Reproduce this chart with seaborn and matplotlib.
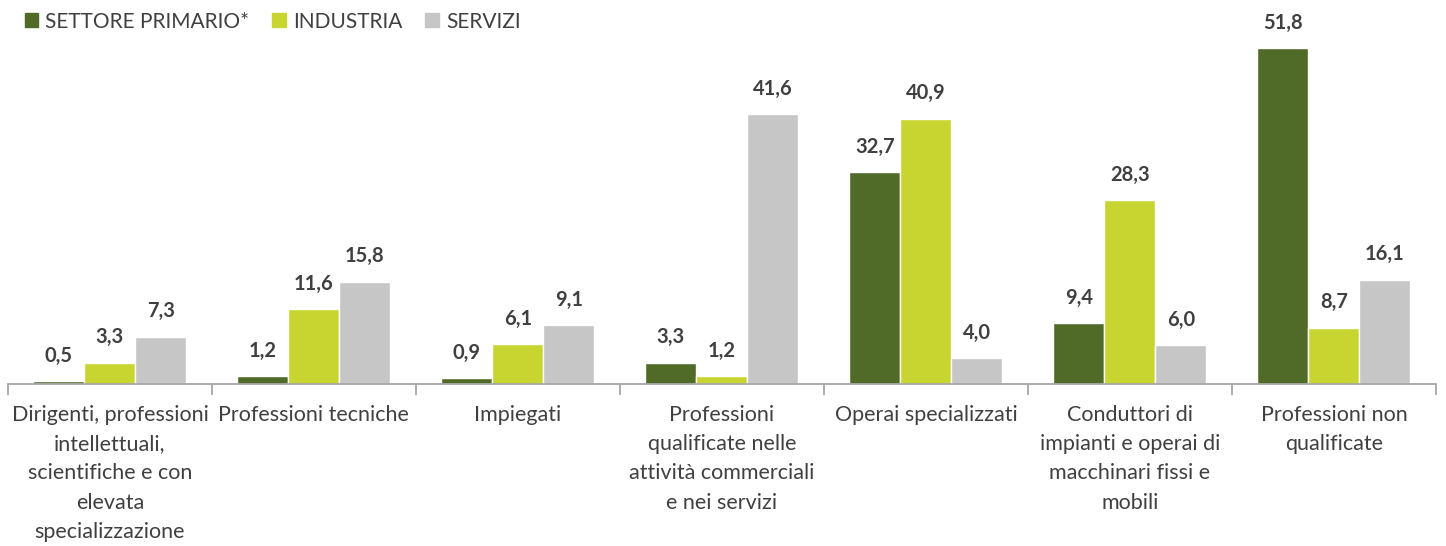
import pandas as pd
import numpy as np
import matplotlib.pyplot as plt
import seaborn as sns

# dati
categorie = [
    "Dirigenti, professioni\nintellettuali,\nscientifiche e con\nelevata\nspecializzazione",
    "Professioni tecniche",
    "Impiegati",
    "Professioni\nqualificate nelle\nattività commerciali\ne nei servizi",
    "Operai specializzati",
    "Conduttori di\nimpianti e operai di\nmacchinari fissi e\nmobili",
    "Professioni non\nqualificate",
]
settori = ["SETTORE PRIMARIO*", "INDUSTRIA", "SERVIZI"]
primario = [0.5, 1.2, 0.9, 3.3, 32.7, 9.4, 51.8]
industria = [3.3, 11.6, 6.1, 1.2, 40.9, 28.3, 8.7]
servizi = [7.3, 15.8, 9.1, 41.6, 4.0, 6.0, 16.1]
colori = ["#506A28", "#C8D530", "#C6C6C6"]

df = pd.DataFrame({
    "categoria": categorie * 3,
    "settore": np.repeat(settori, len(categorie)),
    "valore": primario + industria + servizi,
})

sns.set_style("white")
plt.rcParams["font.family"] = ["Lato", "DejaVu Sans"]
testo = "#404040"

fig = plt.figure(figsize=(14.46, 5.46), dpi=100)
ax = fig.add_axes([0.0055, 0.2967, 0.9875, 0.701])

sns.barplot(data=df, x="categoria", y="valore", hue="settore", palette=colori,
            width=0.75, saturation=1, ax=ax, legend=False)

for cont in ax.containers:
    etichette = [f"{v:.1f}".replace(".", ",") for v in cont.datavalues]
    ax.bar_label(cont, labels=etichette, padding=11, fontsize=14.5,
                 fontweight="bold", color=testo)

ax.set_ylim(0, 59)
ax.set_xlim(-0.5, 6.5)
ax.set_xlabel("")
ax.set_ylabel("")
ax.set_yticks([])
for s in ["top", "right", "left"]:
    ax.spines[s].set_visible(False)
ax.spines["bottom"].set_color("#A6A6A6")
ax.spines["bottom"].set_linewidth(1.3)

ax.set_xticks(range(len(categorie)))
ax.set_xticklabels(categorie, fontsize=15.5, color=testo, linespacing=1.58)
ax.set_xticks(np.arange(-0.5, 7, 1), minor=True)
ax.tick_params(axis="x", which="major", length=0, pad=15)
ax.tick_params(axis="x", which="minor", length=8, width=1.3, color="#A6A6A6",
               direction="out", bottom=True)
for lab in ax.get_xticklabels():
    lab.set_verticalalignment("top")

maniglie = [plt.Rectangle((0, 0), 1, 1, color=c) for c in colori]
fig.legend(maniglie, settori, loc="upper left", bbox_to_anchor=(0.004, 1.013),
           ncol=3, frameon=False, fontsize=15, handlelength=0.65, handleheight=0.65,
           handletextpad=0.35, columnspacing=1.1, labelcolor=testo)

plt.savefig("out.png", dpi=100)
